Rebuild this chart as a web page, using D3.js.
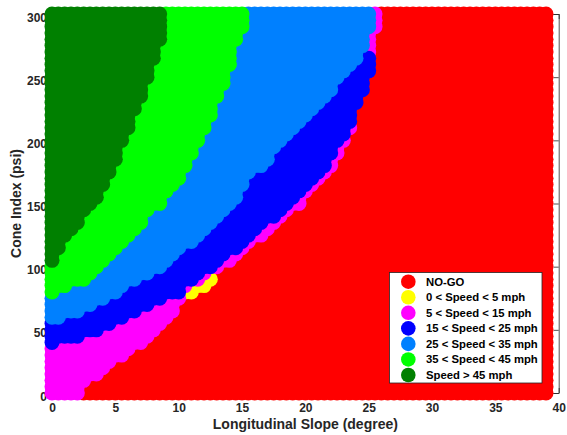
<!DOCTYPE html>
<html>
<head>
<meta charset="utf-8">
<script src="https://cdn.jsdelivr.net/npm/d3@7"></script>
<style>
  body { margin: 0; background: #fff; }
  svg { display: block; }
  text { font-family: "Liberation Sans", Arial, Helvetica, sans-serif; }
</style>
</head>
<body>
<svg id="chart" width="567" height="435"></svg>
<script>
// Sampling grid: slope every 0.5 degree, cone index every 5 psi
const slopeValues = d3.range(0, 39.01, 0.5);
const coneIndexRows = d3.range(0, 300.1, 5);

// Per cone-index row (0, 5, ..., 300 psi): slope at which each speed class ends.
// A point belongs to the first class whose limit its slope is below.
const darkGreenLimit = [
  0, 0, 0, 0, 0, 0, 0, 0, 0, 0,
  0, 0, 0, 0, 0, 0, 0, 0, 0, 0,
  0, 0.25, 0.4, 0.65, 1.0, 1.35, 1.8, 2.15, 2.4, 2.75,
  3.1, 3.55, 3.85, 4.1, 4.35, 4.65, 4.9, 5.15, 5.3, 5.5,
  5.7, 5.95, 6.2, 6.35, 6.5, 6.7, 6.85, 7.05, 7.2, 7.4,
  7.55, 7.7, 7.9, 8.05, 8.25, 8.45, 8.6, 8.65, 8.65, 8.65,
  8.6
];
const greenLimit = [
  0, 0, 0, 0, 0, 0, 0, 0, 0, 0,
  0, 0, 0, 0, 0, 0, 0.5, 1.5, 2.6, 3.25,
  3.95, 4.45, 4.95, 5.5, 5.95, 6.45, 6.85, 7.25, 7.5, 7.85,
  8.6, 8.95, 9.3, 9.7, 10.1, 10.4, 10.65, 10.9, 11.15, 11.4,
  11.75, 12.0, 12.2, 12.4, 12.6, 12.8, 13.0, 13.3, 13.45, 13.6,
  13.75, 13.9, 14.1, 14.2, 14.35, 14.5, 14.7, 15.0, 15.1, 15.2,
  15.2
];
const lightBlueLimit = [
  0, 0, 0, 0, 0, 0, 0, 0, 0, 0,
  0, 0, 1.0, 2.35, 3.4, 4.45, 5.25, 6.0, 6.9, 7.8,
  8.6, 9.15, 9.6, 10.45, 11.2, 11.65, 12.25, 12.95, 13.4, 13.8,
  14.2, 14.6, 14.9, 15.2, 15.5, 15.9, 16.55, 17.1, 17.5, 18.0,
  18.4, 18.95, 19.4, 19.75, 20.2, 20.55, 21.1, 21.6, 22.05, 22.4,
  22.9, 23.35, 23.7, 24.1, 24.25, 24.75, 24.75, 24.75, 25.25, 25.25,
  25.25
];
const blueLimit = [
  0, 0, 0, 0, 0, 0, 0, 0, 0.3, 2.3,
  3.6, 4.7, 5.8, 6.8, 7.75, 9.0, 10.25, 10.25, 11.25, 11.75,
  12.75, 13.4, 14.0, 14.6, 15.2, 15.8, 16.4, 17.0, 17.6, 18.2,
  18.8, 19.3, 19.75, 20.1, 20.6, 21.1, 21.6, 22.0, 22.2, 22.5,
  22.8, 23.2, 23.5, 23.6, 23.7, 23.9, 24.2, 24.4, 24.6, 24.8,
  24.95, 25.1, 25.25, 25.25, 24.25, 24.75, 24.75, 24.75, 25.25, 25.25,
  25.25
];
const magentaLimit = [
  2.25, 2.5, 2.9, 3.6, 4.3, 5.0, 5.7, 6.4, 7.1, 7.7,
  8.3, 8.8, 9.2, 9.6, 10.0, 10.25, 11.25, 12.25, 12.75, 12.25,
  13.5, 14.3, 14.8, 15.4, 16.0, 16.6, 17.2, 17.75, 18.5, 19.0,
  19.6, 20.0, 20.3, 20.6, 21.1, 21.6, 22.1, 22.2, 22.6, 22.9,
  23.2, 23.4, 23.6, 23.6, 23.7, 23.9, 24.2, 24.4, 24.6, 24.8,
  24.95, 25.1, 25.25, 25.25, 25.25, 25.25, 25.25, 25.25, 25.75, 25.75,
  25.75
];

// Grid points in the 0-5 mph class
const yellowSlope = [10.5, 11.0, 11.0, 11.5, 12.0, 12.0, 12.5];
const yellowCone  = [80, 80, 85, 85, 85, 90, 90];

// Classes in drawing order (later ones are drawn on top)
const classLabels = ["NO-GO", "0 < Speed < 5 mph", "5 < Speed < 15 mph", "15 < Speed < 25 mph",
                     "25 < Speed < 35 mph", "35 < Speed < 45 mph", "Speed > 45 mph"];
const classColors = ["#ff0000", "#ffff00", "#ff00ff", "#0000ff", "#0080ff", "#00ff00", "#008000"];

const xTicks = [0, 5, 10, 15, 20, 25, 30, 35, 40];
const yTicks = [0, 50, 100, 150, 200, 250, 300];

function classify(row, slope, cone) {
  if (slope < darkGreenLimit[row]) return 6;
  if (slope < greenLimit[row]) return 5;
  if (slope < lightBlueLimit[row]) return 4;
  if (slope < blueLimit[row]) return 3;
  if (slope < magentaLimit[row]) {
    for (let k = 0; k < yellowSlope.length; k++) {
      if (yellowSlope[k] === slope && yellowCone[k] === cone) return 1;
    }
    return 2;
  }
  return 0;
}

const points = [];
coneIndexRows.forEach((cone, row) => {
  slopeValues.forEach(slope => {
    points.push({ slope, cone, cls: classify(row, slope, cone) });
  });
});
points.sort((a, b) => a.cls - b.cls);

const svg = d3.select("#chart");
const x = d3.scaleLinear().domain([0, 40]).range([52, 558.7]);
const y = d3.scaleLinear().domain([0, 300]).range([393, 14]);
const ink = "#262626";

// Axes box (drawn below the markers)
const axes = svg.append("g");
const axisB = axes.append("g").attr("transform", `translate(0,${y(0)})`)
  .call(d3.axisBottom(x).tickValues(xTicks).tickSizeInner(-5).tickSizeOuter(0).tickPadding(10.5));
const axisL = axes.append("g").attr("transform", `translate(${x(0)},0)`)
  .call(d3.axisLeft(y).tickValues(yTicks).tickSizeInner(-5).tickSizeOuter(0).tickPadding(5));
const axisT = axes.append("g").attr("transform", `translate(0,${y(300)})`)
  .call(d3.axisTop(x).tickValues(xTicks).tickSizeInner(-5).tickSizeOuter(0).tickFormat(""));
const axisR = axes.append("g").attr("transform", `translate(${x(40)},0)`)
  .call(d3.axisRight(y).tickValues(yTicks).tickSizeInner(-5).tickSizeOuter(0).tickFormat(""));

[axisB, axisL, axisT, axisR].forEach(g => {
  g.selectAll("path, line").attr("stroke", ink).attr("stroke-width", 0.8);
  g.selectAll("text").attr("fill", ink).style("font-size", "12px").style("font-weight", "bold");
});
axisL.selectAll("text").attr("dy", null).attr("y", 7);

// Grid markers
svg.append("g").selectAll("circle").data(points).join("circle")
  .attr("cx", d => x(d.slope))
  .attr("cy", d => y(d.cone))
  .attr("r", 7.5)
  .attr("fill", d => classColors[d.cls]);

// Axis titles
svg.append("text")
  .attr("x", (x(0) + x(40)) / 2).attr("y", 429)
  .attr("text-anchor", "middle").attr("fill", ink)
  .style("font-size", "14px").style("font-weight", "bold")
  .text("Longitudinal Slope (degree)");
svg.append("text")
  .attr("transform", `translate(21,${(y(0) + y(300)) / 2}) rotate(-90)`)
  .attr("text-anchor", "middle").attr("fill", ink)
  .style("font-size", "14px").style("font-weight", "bold")
  .text("Cone Index (psi)");

// Legend
const legend = svg.append("g");
legend.append("rect")
  .attr("x", 389.5).attr("y", 272.5).attr("width", 152.5).attr("height", 110.5)
  .attr("fill", "#fff").attr("stroke", ink).attr("stroke-width", 0.8);
const entries = legend.selectAll("g.entry").data(classLabels).join("g")
  .attr("class", "entry")
  .attr("transform", (d, i) => `translate(0,${281.7 + i * 15.55})`);
entries.append("circle")
  .attr("cx", 408.3).attr("cy", 0).attr("r", 7.3)
  .attr("fill", (d, i) => classColors[i]);
entries.append("text")
  .attr("x", 426).attr("y", 4)
  .attr("fill", "#000")
  .style("font-size", "11.3px").style("font-weight", "bold")
  .text(d => d);
</script>
</body>
</html>
